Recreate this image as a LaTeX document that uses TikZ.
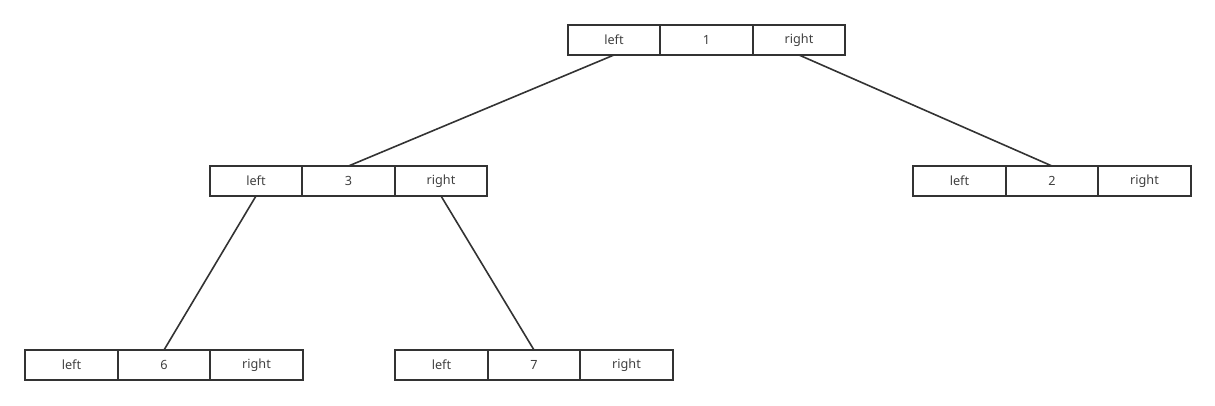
\documentclass[tikz,border=0pt]{standalone}
\usepackage{fontspec}
\setmainfont{Noto Sans}
\usepackage{xcolor}
\usetikzlibrary{positioning}
\definecolor{ink}{HTML}{333333}
\definecolor{txt}{HTML}{404040}
\tikzset{
  cell/.style={draw=ink, line width=1.5pt, minimum width=69.4pt, minimum height=22.5pt, inner sep=0pt, outer sep=0pt, text=txt, font=\fontsize{9.5}{11}\selectfont},
  edge/.style={draw=ink, line width=1.2pt},
}
% one record: left | value | right
\newcommand{\record}[4]{%
  \node[cell] (#1) at (#2,#3) {#4};
  \node[cell, left=0pt of #1] (#1l) {left};
  \node[cell, right=0pt of #1] (#1r) {right};
}

\begin{document}
\begin{tikzpicture}[x=0.75pt, y=-0.75pt]
\useasboundingbox (0,0) rectangle (1215,405);
\record{n1}{706.5}{40}{1}
\record{n3}{348.5}{181}{3}
\record{n2}{1052}{181}{2}
\record{n6}{164}{365}{6}
\record{n7}{534}{365}{7}
\draw[edge] (n1l.south) -- (n3.north);
\draw[edge] (n1r.south) -- (n2.north);
\draw[edge] (n3l.south) -- (n6.north);
\draw[edge] (n3r.south) -- (n7.north);
\end{tikzpicture}
\end{document}
